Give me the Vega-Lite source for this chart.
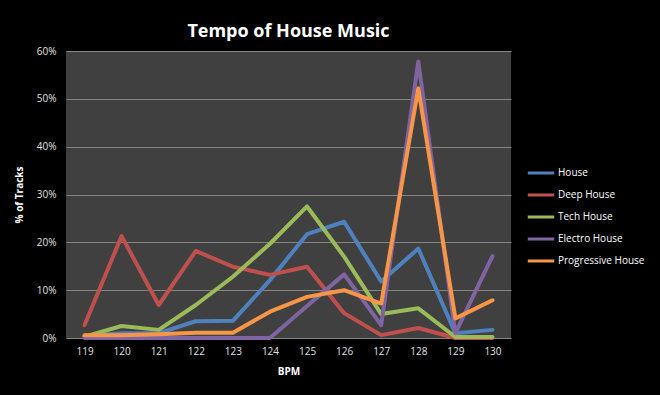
{
  "$schema": "https://vega.github.io/schema/vega-lite/v6.json",
  "autosize": {"type": "none"},
  "width": 445,
  "height": 287,
  "padding": {"left": 66, "top": 51, "right": 149, "bottom": 57},
  "background": "#000000",
  "title": {
    "text": "Tempo of House Music",
    "font": "Open Sans",
    "fontSize": 18,
    "fontWeight": "bold",
    "color": "#ffffff",
    "anchor": "middle",
    "offset": 5
  },
  "config": {
    "view": {"fill": "#404040", "stroke": null},
    "font": "Open Sans"
  },
  "data": {
    "values": [
      {"bpm": "119", "genre": "House", "pct": 0.004},
      {"bpm": "120", "genre": "House", "pct": 0.010},
      {"bpm": "121", "genre": "House", "pct": 0.010},
      {"bpm": "122", "genre": "House", "pct": 0.035},
      {"bpm": "123", "genre": "House", "pct": 0.036},
      {"bpm": "124", "genre": "House", "pct": 0.121},
      {"bpm": "125", "genre": "House", "pct": 0.217},
      {"bpm": "126", "genre": "House", "pct": 0.243},
      {"bpm": "127", "genre": "House", "pct": 0.118},
      {"bpm": "128", "genre": "House", "pct": 0.187},
      {"bpm": "129", "genre": "House", "pct": 0.010},
      {"bpm": "130", "genre": "House", "pct": 0.017},
      {"bpm": "119", "genre": "Deep House", "pct": 0.027},
      {"bpm": "120", "genre": "Deep House", "pct": 0.213},
      {"bpm": "121", "genre": "Deep House", "pct": 0.069},
      {"bpm": "122", "genre": "Deep House", "pct": 0.182},
      {"bpm": "123", "genre": "Deep House", "pct": 0.149},
      {"bpm": "124", "genre": "Deep House", "pct": 0.132},
      {"bpm": "125", "genre": "Deep House", "pct": 0.149},
      {"bpm": "126", "genre": "Deep House", "pct": 0.052},
      {"bpm": "127", "genre": "Deep House", "pct": 0.006},
      {"bpm": "128", "genre": "Deep House", "pct": 0.021},
      {"bpm": "129", "genre": "Deep House", "pct": 0.0},
      {"bpm": "130", "genre": "Deep House", "pct": 0.0},
      {"bpm": "119", "genre": "Tech House", "pct": 0.003},
      {"bpm": "120", "genre": "Tech House", "pct": 0.025},
      {"bpm": "121", "genre": "Tech House", "pct": 0.017},
      {"bpm": "122", "genre": "Tech House", "pct": 0.069},
      {"bpm": "123", "genre": "Tech House", "pct": 0.128},
      {"bpm": "124", "genre": "Tech House", "pct": 0.197},
      {"bpm": "125", "genre": "Tech House", "pct": 0.275},
      {"bpm": "126", "genre": "Tech House", "pct": 0.170},
      {"bpm": "127", "genre": "Tech House", "pct": 0.050},
      {"bpm": "128", "genre": "Tech House", "pct": 0.062},
      {"bpm": "129", "genre": "Tech House", "pct": 0.002},
      {"bpm": "130", "genre": "Tech House", "pct": 0.002},
      {"bpm": "119", "genre": "Electro House", "pct": 0.0},
      {"bpm": "120", "genre": "Electro House", "pct": 0.0},
      {"bpm": "121", "genre": "Electro House", "pct": 0.0},
      {"bpm": "122", "genre": "Electro House", "pct": 0.0},
      {"bpm": "123", "genre": "Electro House", "pct": 0.0},
      {"bpm": "124", "genre": "Electro House", "pct": 0.0},
      {"bpm": "125", "genre": "Electro House", "pct": 0.067},
      {"bpm": "126", "genre": "Electro House", "pct": 0.133},
      {"bpm": "127", "genre": "Electro House", "pct": 0.027},
      {"bpm": "128", "genre": "Electro House", "pct": 0.578},
      {"bpm": "129", "genre": "Electro House", "pct": 0.010},
      {"bpm": "130", "genre": "Electro House", "pct": 0.171},
      {"bpm": "119", "genre": "Progressive House", "pct": 0.006},
      {"bpm": "120", "genre": "Progressive House", "pct": 0.006},
      {"bpm": "121", "genre": "Progressive House", "pct": 0.008},
      {"bpm": "122", "genre": "Progressive House", "pct": 0.011},
      {"bpm": "123", "genre": "Progressive House", "pct": 0.011},
      {"bpm": "124", "genre": "Progressive House", "pct": 0.055},
      {"bpm": "125", "genre": "Progressive House", "pct": 0.086},
      {"bpm": "126", "genre": "Progressive House", "pct": 0.100},
      {"bpm": "127", "genre": "Progressive House", "pct": 0.072},
      {"bpm": "128", "genre": "Progressive House", "pct": 0.522},
      {"bpm": "129", "genre": "Progressive House", "pct": 0.041},
      {"bpm": "130", "genre": "Progressive House", "pct": 0.079}
    ]
  },
  "mark": {"type": "line", "strokeWidth": 4, "strokeJoin": "round", "strokeCap": "round"},
  "encoding": {
    "x": {
      "field": "bpm",
      "type": "ordinal",
      "scale": {"padding": 0.5},
      "axis": {
        "title": "BPM",
        "titleColor": "#ffffff",
        "titleFontSize": 10,
        "titleFontWeight": "bold",
        "titlePadding": 10,
        "labelColor": "#e0e0e0",
        "labelFontSize": 10,
        "labelAngle": 0,
        "labelPadding": 8,
        "ticks": false,
        "domain": false,
        "grid": false
      }
    },
    "y": {
      "field": "pct",
      "type": "quantitative",
      "scale": {"domain": [0, 0.6], "nice": false},
      "axis": {
        "title": "% of Tracks",
        "titleColor": "#ffffff",
        "titleFontSize": 10,
        "titleFontWeight": "bold",
        "titlePadding": 12,
        "format": ".0%",
        "values": [0, 0.1, 0.2, 0.3, 0.4, 0.5, 0.6],
        "labelColor": "#e0e0e0",
        "labelFontSize": 10,
        "labelPadding": 10,
        "ticks": false,
        "domain": false,
        "grid": true,
        "gridColor": "#858585",
        "gridWidth": 1
      }
    },
    "color": {
      "field": "genre",
      "type": "nominal",
      "sort": ["House", "Deep House", "Tech House", "Electro House", "Progressive House"],
      "scale": {
        "domain": ["House", "Deep House", "Tech House", "Electro House", "Progressive House"],
        "range": ["#4F81BD", "#C0504D", "#9BBB59", "#8064A2", "#F79646"]
      },
      "legend": {
        "title": null,
        "orient": "none",
        "legendX": 460,
        "legendY": 114,
        "symbolType": "stroke",
        "symbolSize": 700,
        "symbolStrokeWidth": 3,
        "clipHeight": 16,
        "labelColor": "#ffffff",
        "labelFontSize": 10,
        "labelOffset": 2,
        "rowPadding": 6
      }
    }
  }
}
